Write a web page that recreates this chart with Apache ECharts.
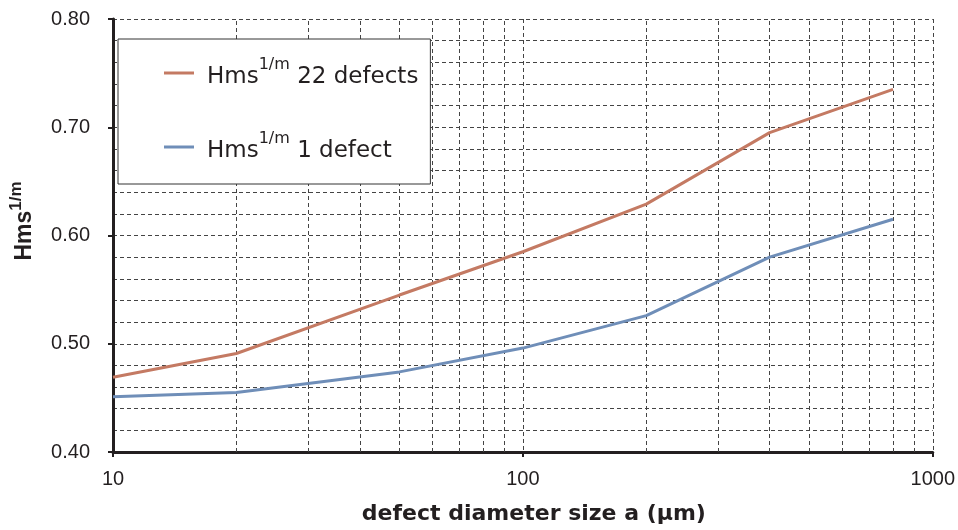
<!DOCTYPE html>
<html><head><meta charset="utf-8">
<script src="https://cdn.jsdelivr.net/npm/echarts@6/dist/echarts.min.js"></script>
<style>html,body{margin:0;padding:0;background:#fff}#c{width:958px;height:530px}</style>
</head><body><div id="c"></div>
<script>
const xValues = [10, 20, 50, 100, 200, 400, 800];
const defects22 = [0.469, 0.491, 0.545, 0.585, 0.629, 0.695, 0.735];
const defects1 = [0.451, 0.455, 0.474, 0.496, 0.526, 0.580, 0.615];
const minorGridX = [20,30,40,50,60,70,80,90,200,300,400,500,600,700,800,900];
const seriesNames = ['Hms1/m 22 defects', 'Hms1/m 1 defect'];
const legendLabels = {
  'Hms1/m 22 defects': '{m|Hms}{s|1/m}{m| 22 defects}',
  'Hms1/m 1 defect': '{m|Hms}{s|1/m}{m| 1 defect}'
};
const ink = '#231f20';
const gridColor = '#444';
const chart = echarts.init(document.getElementById('c'));
chart.setOption({
  animation: false,
  backgroundColor: '#fff',
  grid: { left: 111, right: 23, top: 19, bottom: 78 },
  legend: {
    orient: 'vertical', left: 118, top: 39,
    data: seriesNames.map(n => ({ name: n, icon: 'rect' })),
    itemWidth: 30, itemHeight: 3, itemGap: 42,
    padding: [18, 12, 21, 46],
    backgroundColor: '#fff', borderColor: '#333', borderWidth: 1,
    formatter: n => legendLabels[n],
    textStyle: {
      color: ink,
      padding: [0, 0, 0, 8],
      rich: {
        m: { fontFamily: 'DejaVu Sans', fontSize: 23, lineHeight: 32, verticalAlign: 'bottom', color: ink },
        s: { fontFamily: 'DejaVu Sans', fontSize: 16, lineHeight: 16, verticalAlign: 'top', color: ink }
      }
    }
  },
  xAxis: {
    type: 'log', logBase: 10, min: 10, max: 1000,
    name: 'defect diameter size a (μm)', nameLocation: 'middle', nameGap: 51,
    nameTextStyle: { fontFamily: 'DejaVu Sans', fontWeight: 'bold', fontSize: 22, color: ink, padding: [0, 0, 0, 22] },
    axisLine: { show: true, lineStyle: { color: ink, width: 3 } },
    axisTick: { show: true, length: 5, lineStyle: { color: ink, width: 2 } },
    axisLabel: { fontFamily: 'Liberation Sans', fontSize: 20, color: ink, margin: 17, formatter: v => String(Math.round(v)) },
    splitLine: { show: true, lineStyle: { color: gridColor, type: [4, 3], width: 1 } },
    minorTick: { show: false }, minorSplitLine: { show: false }
  },
  yAxis: {
    type: 'value', min: 0.4, max: 0.8, interval: 0.1,
    name: '{b|Hms}{s|1/m}', nameLocation: 'middle', nameGap: 77,
    nameTextStyle: {
      padding: [0, 0, 0, 29],
      rich: {
        b: { fontFamily: 'Liberation Sans', fontWeight: 'bold', fontSize: 23, lineHeight: 28, verticalAlign: 'bottom', color: ink },
        s: { fontFamily: 'Liberation Sans', fontWeight: 'bold', fontSize: 17, lineHeight: 17, verticalAlign: 'top', color: ink }
      }
    },
    axisLine: { show: true, lineStyle: { color: ink, width: 3 } },
    axisTick: { show: true, length: 5, lineStyle: { color: ink, width: 2 } },
    axisLabel: { fontFamily: 'Liberation Sans', fontSize: 20, color: ink, margin: 23, formatter: v => v.toFixed(2) },
    splitLine: { show: true, lineStyle: { color: gridColor, type: [4, 3], width: 1 } },
    minorTick: { show: false, splitNumber: 5 },
    minorSplitLine: { show: true, lineStyle: { color: gridColor, type: [4, 3], width: 1 } }
  },
  series: [
    {
      name: seriesNames[0], type: 'line', symbol: 'none',
      data: xValues.map((x, i) => [x, defects22[i]]),
      lineStyle: { color: '#C47A63', width: 3 }, itemStyle: { color: '#C47A63' },
      z: 5,
      markLine: {
        silent: true, symbol: 'none', label: { show: false },
        lineStyle: { color: gridColor, type: [4, 3], width: 1 },
        data: minorGridX.map(v => ({ xAxis: v })),
        z: 1
      }
    },
    {
      name: seriesNames[1], type: 'line', symbol: 'none',
      data: xValues.map((x, i) => [x, defects1[i]]),
      lineStyle: { color: '#6F8EB8', width: 3 }, itemStyle: { color: '#6F8EB8' },
      z: 5
    }
  ]
});
</script></body></html>
